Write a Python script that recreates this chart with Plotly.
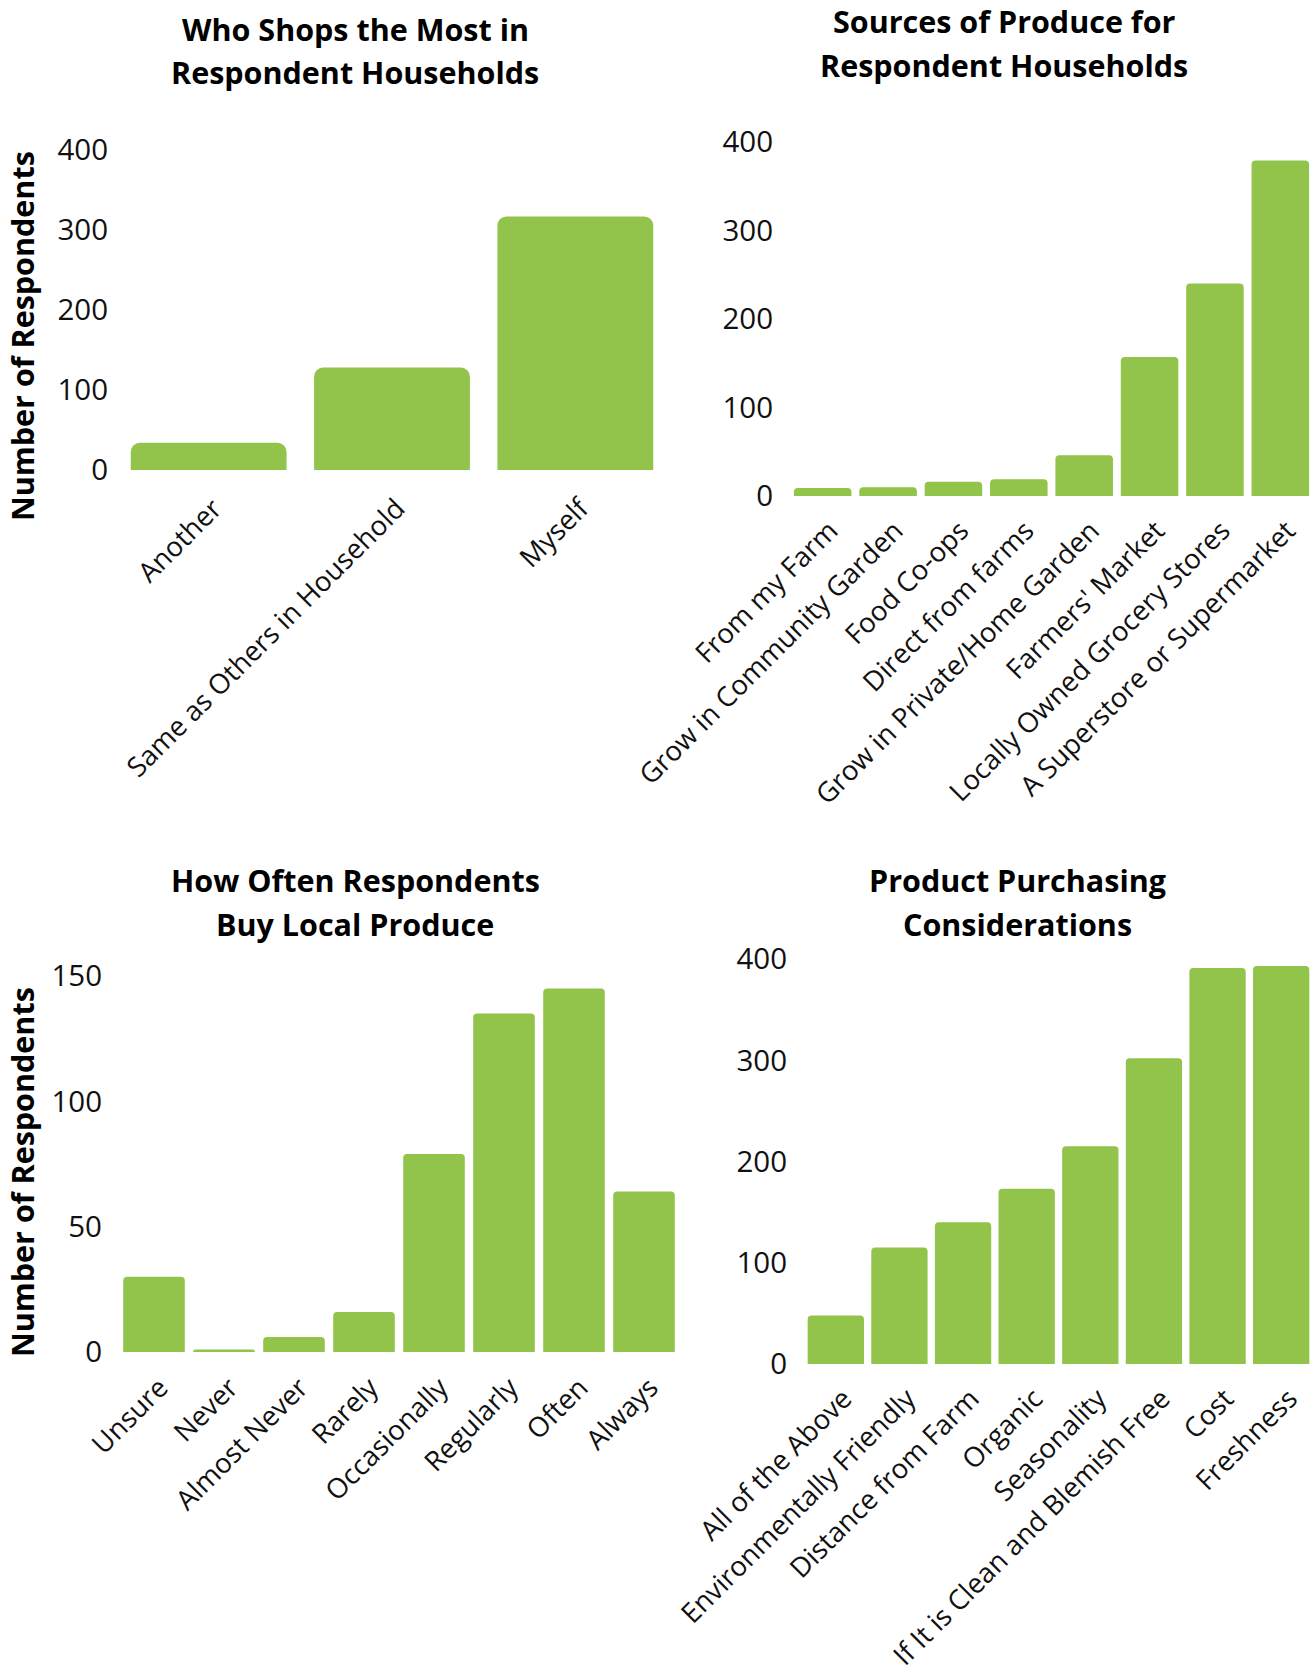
import plotly.graph_objects as go

# ---- data -------------------------------------------------------------
shopper_cats = ["Another", "Same as Others in Household", "Myself"]
shopper_vals = [34, 128, 317]

source_cats = ["From my Farm", "Grow in Community Garden", "Food Co-ops",
               "Direct from farms", "Grow in Private/Home Garden",
               "Farmers' Market", "Locally Owned Grocery Stores",
               "A Superstore or Supermarket"]
source_vals = [9, 10, 16, 19, 46, 157, 240, 379]

freq_cats = ["Unsure", "Never", "Almost Never", "Rarely", "Occasionally",
             "Regularly", "Often", "Always"]
freq_vals = [30, 1, 6, 16, 79, 135, 145, 64]

consid_cats = ["All of the Above", "Environmentally Friendly",
               "Distance from Farm", "Organic", "Seasonality",
               "If It is Clean and Blemish Free", "Cost", "Freshness"]
consid_vals = [48, 115, 140, 173, 215, 302, 391, 393]

titles = [
    ["Who Shops the Most in", "Respondent Households"],
    ["Sources of Produce for", "Respondent Households"],
    ["How Often Respondents", "Buy Local Produce"],
    ["Product Purchasing", "Considerations"],
]
y_title = "Number of Respondents"

# ---- layout geometry (pixels) ------------------------------------------
W, H = 1313, 1667
GREEN = "#92c34a"
FONT = "Open Sans"
XTICK_SIZE = 27.5
YTICK_SIZE = 29.5
TITLE_SIZE = 30.5


def fx(px):
    return max(0.0, min(1.0, px / W))


def fy(py):
    return max(0.0, min(1.0, 1 - py / H))


panels = [
    dict(cats=shopper_cats, vals=shopper_vals, x0=117, x1=667, yb=470, yt=150,
         ymax=400, dtick=100, gap=0.15, corner=9, ystand=8,
         xshift=5, xstand=16),
    dict(cats=source_cats, vals=source_vals, x0=790, x1=1313, yb=496, yt=142,
         ymax=400, dtick=100, gap=0.12, corner=4, ystand=16,
         xshift=7, xstand=12),
    dict(cats=freq_cats, vals=freq_vals, x0=119, x1=679, yb=1352, yt=976,
         ymax=150, dtick=50, gap=0.12, corner=4, ystand=16,
         xshift=6, xstand=13),
    dict(cats=consid_cats, vals=consid_vals, x0=804, x1=1313, yb=1364, yt=959,
         ymax=400, dtick=100, gap=0.115, corner=4, ystand=16,
         xshift=8, xstand=12),
]

fig = go.Figure()
layout = dict(
    template="none",
    width=W, height=H,
    margin=dict(l=0, r=0, t=0, b=0, autoexpand=False),
    paper_bgcolor="white", plot_bgcolor="white",
    showlegend=False,
    font=dict(family=FONT, color="#111111"),
    bargap=0.13,
    annotations=[],
)

for i, p in enumerate(panels, start=1):
    sfx = "" if i == 1 else str(i)
    fig.add_trace(go.Bar(
        x=p["cats"], y=p["vals"],
        xaxis="x" + sfx, yaxis="y" + sfx,
        width=1 - p["gap"],
        marker=dict(color=GREEN, cornerradius=p["corner"], line=dict(width=0)),
        hoverinfo="x+y",
    ))
    layout["xaxis" + sfx] = dict(
        domain=[fx(p["x0"]), fx(p["x1"])], anchor="y" + sfx,
        automargin=False,
        tickangle=-45, showgrid=False, showline=False, zeroline=False,
        ticks="", tickfont=dict(family=FONT, size=XTICK_SIZE, color="#111111"),
        ticklabelstandoff=p["xstand"], ticklabelshift=p["xshift"],
    )
    layout["yaxis" + sfx] = dict(
        domain=[fy(p["yb"]), fy(p["yt"])], anchor="x" + sfx,
        automargin=False,
        range=[0, p["ymax"]], dtick=p["dtick"], tick0=0,
        showgrid=False, showline=False, zeroline=False, ticks="",
        tickfont=dict(family=FONT, size=YTICK_SIZE, color="#111111"),
        ticklabelstandoff=p["ystand"],
    )

# panel titles, one annotation per line
title_pos = [(355, 29, 72), (1004, 21, 65), (355, 880, 924), (1017, 880, 924)]
for (cx, y1, y2), lines in zip(title_pos, titles):
    for yy, line in zip((y1, y2), lines):
        layout["annotations"].append(dict(
            text="<b>" + line + "</b>", x=fx(cx), y=fy(yy),
            xref="paper", yref="paper", xanchor="center", yanchor="middle",
            showarrow=False,
            font=dict(family=FONT, size=TITLE_SIZE, color="#000000"),
        ))

# shared y-axis titles on the left column
for cy in (336, 1172):
    layout["annotations"].append(dict(
        text="<b>" + y_title + "</b>", x=fx(22), y=fy(cy),
        xref="paper", yref="paper", xanchor="center", yanchor="middle",
        textangle=-90, showarrow=False,
        font=dict(family=FONT, size=TITLE_SIZE, color="#000000"),
    ))

fig.update_layout(**layout)
fig.write_html("out.html")
